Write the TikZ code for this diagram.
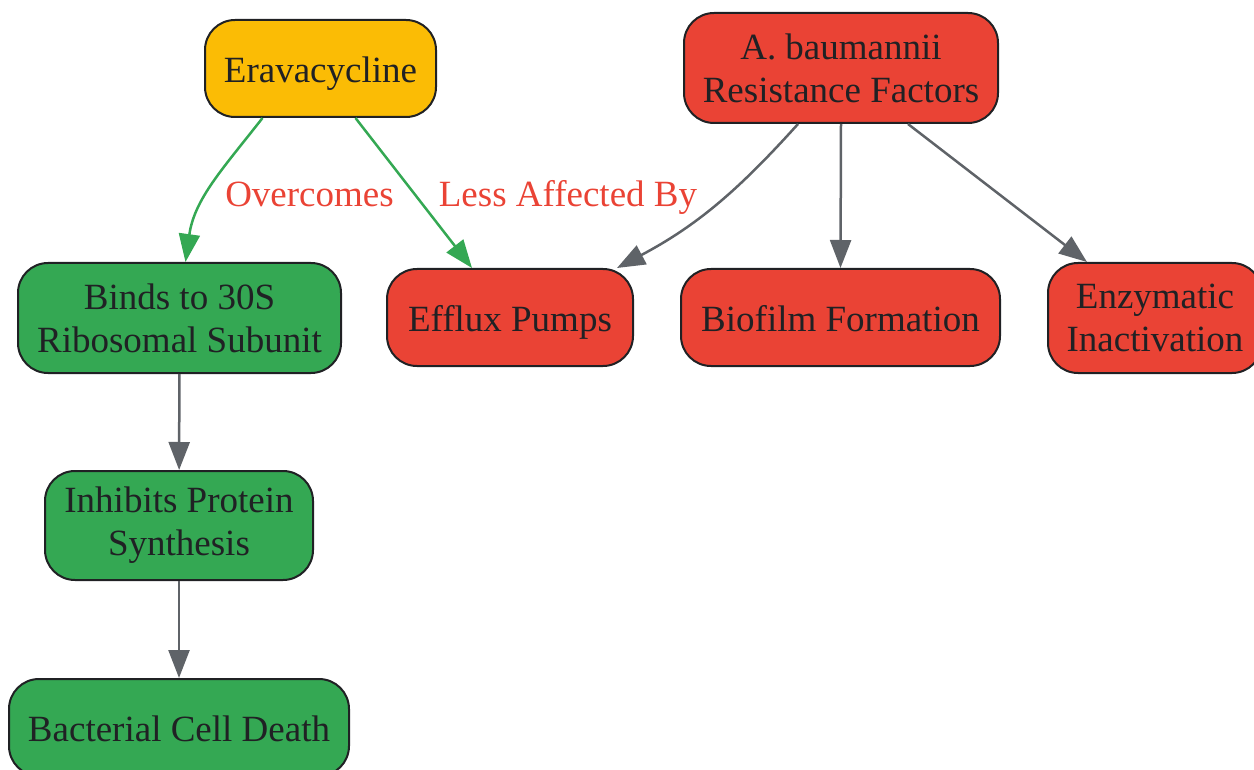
\documentclass[tikz,border=0pt]{standalone}
\usepackage{fontspec}
\setmainfont{Liberation Serif}
\usetikzlibrary{arrows.meta}
\definecolor{gyellow}{HTML}{FBBC05}
\definecolor{gred}{HTML}{EA4335}
\definecolor{ggreen}{HTML}{34A853}
\definecolor{ggray}{HTML}{5F6368}
\definecolor{gdark}{HTML}{202124}
\tikzset{
  box/.style={draw=gdark, line width=2pt, rounded corners=30pt, align=center,
    inner sep=0pt, text=gdark, font=\fontsize{37}{43}\selectfont},
  oneline/.style={text height=28pt, text depth=0pt},
  yellowbox/.style={box, fill=gyellow},
  redbox/.style={box, fill=gred},
  greenbox/.style={box, fill=ggreen},
  edge/.style={line width=2.5pt, -{Triangle[length=28pt,width=21pt]}},
  grayedge/.style={edge, draw=ggray},
  greenedge/.style={edge, draw=ggreen},
  elabel/.style={text=gred, font=\fontsize{37}{43}\selectfont, anchor=base, inner sep=0pt}
}
\begin{document}
\begin{tikzpicture}[x=1pt,y=-1pt]
\useasboundingbox (0,0) rectangle (1254,770);
\node[yellowbox, oneline, minimum width=231pt, minimum height=97pt] (erav) at (320.5,68.5) {Eravacycline};
\node[redbox, minimum width=314pt, minimum height=110pt] (abau) at (841,68) {A. baumannii\\Resistance Factors};
\node[greenbox, minimum width=323pt, minimum height=110pt] (binds) at (179.5,318) {Binds to 30S\\Ribosomal Subunit};
\node[redbox, oneline, minimum width=246pt, minimum height=97pt] (efflux) at (510,317.5) {Efflux Pumps};
\node[redbox, oneline, minimum width=319pt, minimum height=97pt] (biofilm) at (840.5,317.5) {Biofilm Formation};
\node[redbox, minimum width=214pt, minimum height=110pt] (enzym) at (1155,318) {Enzymatic\\Inactivation};
\node[greenbox, minimum width=268pt, minimum height=109pt] (inhib) at (179,525.5) {Inhibits Protein\\Synthesis};
\node[greenbox, oneline, minimum width=340pt, minimum height=97pt] (death) at (179,727.5) {Bacterial Cell Death};

\draw[greenedge] ([xshift=-58pt]erav.south) to[out=-128,in=82] ([xshift=6pt]binds.north);
\draw[greenedge] ([xshift=35pt]erav.south) -- ([xshift=-38pt]efflux.north);
\node[elabel] (lovercomes) at (309.5,207) {Overcomes};
\node[elabel] (lless) at (568,207) {Less Affected By};
\draw[grayedge] ([xshift=-43pt]abau.south) to[out=-132,in=28] ([xshift=107pt]efflux.north);
\draw[grayedge] (abau.south) -- (biofilm.north);
\draw[grayedge] ([xshift=67pt]abau.south) -- ([xshift=-68pt]enzym.north);
\draw[grayedge] (binds) -- (inhib);
\draw[grayedge] (inhib) -- (death);
\end{tikzpicture}
\end{document}
